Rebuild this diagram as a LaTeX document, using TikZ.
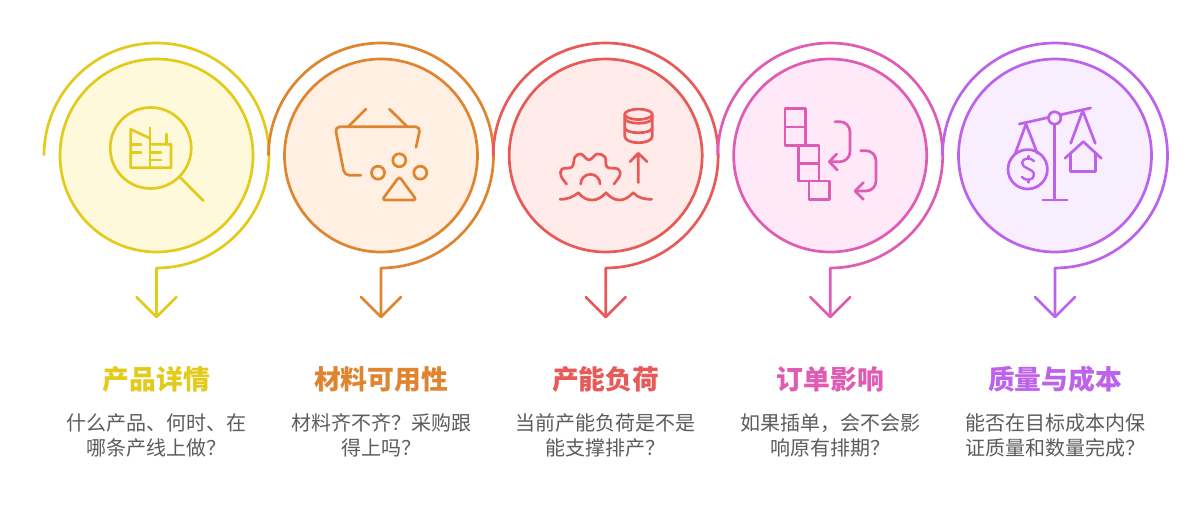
\documentclass[tikz,border=0pt]{standalone}
\usepackage{fontspec}
\setmainfont{Noto Sans CJK SC}
\definecolor{col1}{HTML}{E2CB1B}
\definecolor{col2}{HTML}{E0852F}
\definecolor{col3}{HTML}{E85A57}
\definecolor{col4}{HTML}{E05BB3}
\definecolor{col5}{HTML}{BD62EA}
\definecolor{fill1}{HTML}{FFF9DC}
\definecolor{fill2}{HTML}{FFF0E3}
\definecolor{fill3}{HTML}{FFEBE9}
\definecolor{fill4}{HTML}{FFE8F7}
\definecolor{fill5}{HTML}{F9EEFF}
\definecolor{bodygrey}{HTML}{5C5C5C}
\tikzset{
  disc/.style={circle,draw=#1,line width=2.7pt,inner sep=0pt,outer sep=0pt,minimum size=193pt},
  ico/.style={draw=#1,line width=2.7pt,line cap=round,line join=round},
  titletext/.style={font=\fontsize{26.8}{30}\selectfont\bfseries,inner sep=0pt},
  bodytext/.style={font=\fontsize{20}{25}\selectfont,text=bodygrey,align=center,inner sep=0pt,text width=210pt}
}
\begin{document}
\begin{tikzpicture}[x=1pt,y=-1pt]
\useasboundingbox (0,0) rectangle (1200,519);
\fill[white] (0,0) rectangle (1200,519);
\foreach \i/\cx in {1/156.5,2/381,3/605.7,4/830.2,5/1055}{
  \coordinate (s\i) at (\cx-112.5,155.5);
  \coordinate (b\i) at (\cx,268);
  \coordinate (t\i) at (\cx,317);
  \coordinate (hl\i) at (\cx-20,297);
  \coordinate (hr\i) at (\cx+20,297);
  \node[disc=col\i,fill=fill\i] (c\i) at (\cx,155.5) {};
  \draw[ico=col\i,line cap=butt] (s\i) arc[start angle=180,end angle=450,x radius=112.5,y radius=112.5] -- (t\i);
  \draw[ico=col\i] (hl\i) -- (t\i) -- (hr\i);
}
% icon 1
\node[circle,draw=col1,line width=2.7pt,inner sep=0pt,minimum size=81pt] (lens) at (150.7,148) {};
\coordinate (handle) at (203.3,200.7);
\draw[ico=col1] (lens.-45) -- (handle);
\draw[ico=col1] (150,138.3) -- (130.7,129.3) -- (130.7,167.7) -- (171,167.7) -- (171,144.3) -- (150,144.3);
\draw[ico=col1] (150,127.7) -- (150,167.7);
\draw[ico=col1] (166.3,134) -- (166.3,144.3);
\draw[ico=col1] (130.7,144.3) -- (141,144.3) (130.7,152.3) -- (141,152.3);
\draw[ico=col1] (150,152.3) -- (161,152.3) (150,160) -- (161,160);
% icon 2
\draw[ico=col2] (348.3,126.7) -- (366,109) (389.3,109) -- (407.3,126.7);
\draw[ico=col2,rounded corners=5pt] (416,147.3) -- (420.5,126.7) -- (335,126.7) -- (344.5,175.3) -- (360.7,175.3);
\draw[ico=col2] (378,172.7) circle[radius=6.5] (399.3,160.3) circle[radius=6.5] (420.3,172.7) circle[radius=6.5];
\draw[ico=col2,rounded corners=3pt] (399.3,176.5) -- (382,200) -- (416.5,200) -- cycle;
% icon 3
\draw[ico=col3] (638.5,114.3) ellipse[x radius=13.8,y radius=5.2];
\draw[ico=col3] (624.7,114.3) -- (624.7,136) .. controls (624.7,145) and (652.3,145) .. (652.3,136) -- (652.3,114.3);
\draw[ico=col3] (624.7,118) .. controls (624.7,125) and (652.3,125) .. (652.3,118);
\draw[ico=col3] (624.7,127.5) .. controls (624.7,134.5) and (652.3,134.5) .. (652.3,127.5);
\draw[ico=col3] (638.3,182.7) -- (638.3,153.3) (630,161.7) -- (638.3,153.3) -- (647,161.7);
\draw[ico=col3] (560,199.3) .. controls (568,199.3) and (573,197) .. (578.3,192.7) .. controls (583,198) and (587,200) .. (592,200) .. controls (598,200) and (602,197) .. (606,192.7) .. controls (610,197) and (614,200) .. (619.5,200) .. controls (625,200) and (629,197) .. (633.3,192.7) .. controls (638,198) and (644,199.3) .. (651.7,199.3);
\draw[ico=col3] plot[smooth,tension=0.6] coordinates {(566.7,184) (561,176) (562,169) (572,167) (575,157) (581,154) (589,160) (597,154) (605,157) (607,167) (618,169) (620,175) (614,184)};
\draw[ico=col3] (580.7,184) arc[start angle=180,end angle=360,x radius=9.7,y radius=9.7];
% icon 4
\draw[ico=col4] (785,108.7) rectangle (805.3,127) (785,127) rectangle (805.3,145.3);
\draw[ico=col4] (798.7,145.3) rectangle (819,163.3) (798.7,163.3) rectangle (819,181);
\draw[ico=col4] (809,181) rectangle (829.7,199.3);
\draw[ico=col4,rounded corners=10pt] (835,121.7) -- (850,121.7) -- (850,161.7) -- (829.3,161.7);
\draw[ico=col4] (836.7,154) -- (829.3,161.7) -- (837.3,170);
\draw[ico=col4,rounded corners=10pt] (860.7,150.7) -- (876,150.7) -- (876,191) -- (855,191);
\draw[ico=col4] (863.3,182.7) -- (855,191) -- (863.3,199.3);
% icon 5
\draw[ico=col5] (1019.3,124) -- (1090.7,108);
\draw[ico=col5] (1054.7,124.7) -- (1054.7,200) (1042.7,200) -- (1067.3,200);
\draw[ico=col5,fill=fill5] (1054.7,118) circle[radius=6.2];
\draw[ico=col5] (1015,154) -- (1026,124) -- (1037.3,153.3);
\draw[ico=col5] (1027.7,169.3) circle[radius=19.7];
\draw[ico=col5,line width=2.4pt] (1034,161) .. controls (1031,157.5) and (1022,157.5) .. (1022,163) .. controls (1022,169) and (1034,168) .. (1034,175) .. controls (1034,181) and (1024,181) .. (1022,177);
\draw[ico=col5,line width=2.4pt] (1028.3,156) -- (1028.3,158.5) (1028.3,180) -- (1028.3,182.5);
\draw[ico=col5] (1070.7,143.3) -- (1082.7,110.7) -- (1095.3,143.3);
\draw[ico=col5,fill=fill5] (1065,158.3) -- (1083.3,141.7) -- (1101.3,158.3);
\draw[ico=col5] (1070.7,153.3) -- (1070.7,171.7) -- (1095.3,171.7) -- (1095.3,153.3);
% texts
\node[titletext,text=col1] (h1) at (156.5,379) {产品详情};
\node[titletext,text=col2] (h2) at (381,379) {材料可用性};
\node[titletext,text=col3] (h3) at (605.7,379) {产能负荷};
\node[titletext,text=col4] (h4) at (830.2,379) {订单影响};
\node[titletext,text=col5] (h5) at (1055,379) {质量与成本};
\node[bodytext] (d1) at (156.5,435) {什么产品、何时、在\\哪条产线上做？};
\node[bodytext] (d2) at (381,435) {材料齐不齐？采购跟\\得上吗？};
\node[bodytext] (d3) at (605.7,435) {当前产能负荷是不是\\能支撑排产？};
\node[bodytext] (d4) at (830.2,435) {如果插单，会不会影\\响原有排期？};
\node[bodytext] (d5) at (1055,435) {能否在目标成本内保\\证质量和数量完成？};
\end{tikzpicture}
\end{document}
